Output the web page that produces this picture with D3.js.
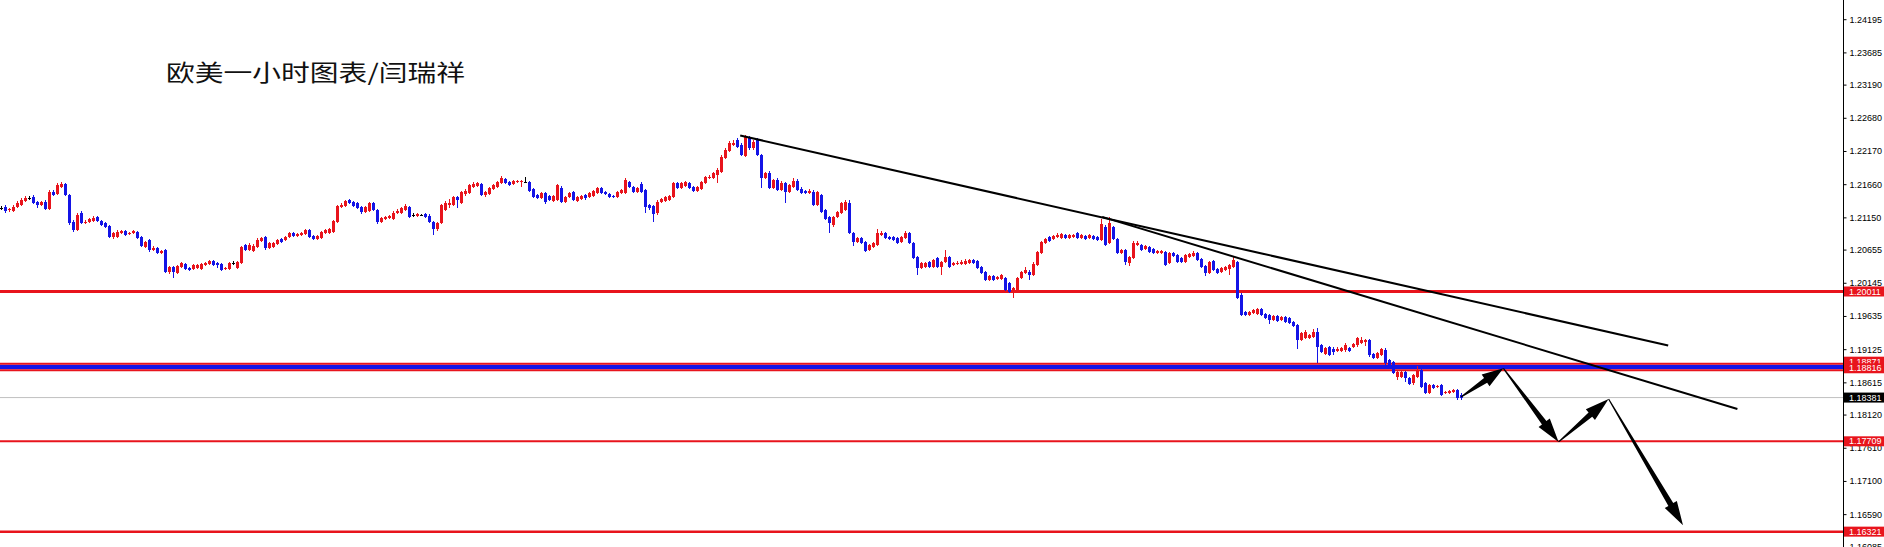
<!DOCTYPE html>
<html><head><meta charset="utf-8">
<script src="https://cdn.jsdelivr.net/npm/d3@7/dist/d3.min.js"></script>
<style>html,body{margin:0;padding:0;background:#fff;overflow:hidden}</style>
</head><body>
<svg id="chart" width="1884" height="547"></svg>
<script>
// ---------------- DATA ----------------
const chartTitle = "欧美一小时图表/闫瑞祥";
const priceTicks = [1.24195,1.23685,1.23190,1.22680,1.22170,1.21660,1.21150,1.20655,1.20145,1.19635,1.19125,1.18615,1.18120,1.17610,1.17100,1.16590,1.16085];
const redLevels = [1.20011, 1.18871, 1.18816, 1.17709, 1.16321];
const blueBand = [1.18871, 1.18816];
const currentPrice = 1.18381;
// trendlines: [barIndex, price]
const trendA = [[184.8, 1.22408], [416.8, 1.19181]];
const trendB = [[275.3, 1.21157], [434.1, 1.18206]];
// projected path arrows: [barIndex, price]
const arrowPath = [[365, 1.1839], [375.6, 1.1883], [389.4, 1.1770], [401.9, 1.1836], [420.5, 1.1642]];

const opens = [
1.2129,1.2131,1.2126,1.2125,1.2131,1.2134,1.2140,1.2145,1.2146,1.2139,
1.2134,1.2139,1.2128,1.2154,1.2151,1.2162,1.2166,1.2149,1.2108,1.2096,
1.2122,1.2106,1.2108,1.2109,1.2116,1.2109,1.2106,1.2102,1.2085,1.2085,
1.2091,1.2094,1.2089,1.2091,1.2092,1.2085,1.2069,1.2080,1.2065,1.2068,
1.2060,1.2065,1.2031,1.2039,1.2030,1.2039,1.2043,1.2037,1.2036,1.2037,
1.2036,1.2042,1.2043,1.2048,1.2045,1.2043,1.2036,1.2036,1.2045,1.2037,
1.2045,1.2073,1.2065,1.2063,1.2069,1.2079,1.2085,1.2068,1.2069,1.2074,
1.2082,1.2080,1.2085,1.2091,1.2086,1.2088,1.2089,1.2096,1.2086,1.2082,
1.2083,1.2091,1.2091,1.2092,1.2108,1.2131,1.2132,1.2142,1.2139,1.2137,
1.2131,1.2123,1.2125,1.2137,1.2126,1.2108,1.2112,1.2114,1.2112,1.2122,
1.2122,1.2126,1.2131,1.2119,1.2117,1.2119,1.2120,1.2117,1.2108,1.2097,
1.2106,1.2126,1.2134,1.2134,1.2146,1.2137,1.2151,1.2152,1.2162,1.2163,
1.2166,1.2149,1.2151,1.2159,1.2162,1.2168,1.2174,1.2169,1.2166,1.2169,
1.2169,1.2169,1.2169,1.2159,1.2149,1.2145,1.2152,1.2148,1.2140,1.2142,
1.2160,1.2139,1.2146,1.2154,1.2140,1.2143,1.2149,1.2146,1.2148,1.2152,
1.2160,1.2154,1.2151,1.2148,1.2146,1.2152,1.2152,1.2169,1.2162,1.2154,
1.2166,1.2157,1.2134,1.2132,1.2122,1.2139,1.2140,1.2142,1.2146,1.2168,
1.2160,1.2163,1.2168,1.2162,1.2155,1.2159,1.2168,1.2175,1.2175,1.2180,
1.2185,1.2206,1.2217,1.2226,1.2234,1.2226,1.2209,1.2238,1.2222,1.2234,
1.2211,1.2175,1.2183,1.2160,1.2172,1.2157,1.2168,1.2154,1.2162,1.2171,
1.2159,1.2155,1.2152,1.2154,1.2134,1.2149,1.2126,1.2116,1.2103,1.2116,
1.2122,1.2126,1.2137,1.2091,1.2077,1.2083,1.2077,1.2065,1.2069,1.2073,
1.2088,1.2091,1.2085,1.2085,1.2083,1.2077,1.2083,1.2091,1.2076,1.2054,
1.2037,1.2039,1.2046,1.2039,1.2053,1.2039,1.2046,1.2054,1.2042,1.2043,
1.2043,1.2043,1.2045,1.2049,1.2048,1.2039,1.2031,1.2019,1.2025,1.2020,
1.2020,1.2022,1.2014,1.2000,1.2003,1.2022,1.2030,1.2031,1.2026,1.2042,
1.2060,1.2076,1.2085,1.2082,1.2085,1.2083,1.2088,1.2083,1.2085,1.2091,
1.2083,1.2086,1.2083,1.2086,1.2085,1.2080,1.2100,1.2076,1.2100,1.2082,
1.2060,1.2065,1.2045,1.2053,1.2073,1.2073,1.2066,1.2069,1.2066,1.2060,
1.2060,1.2062,1.2045,1.2060,1.2057,1.2053,1.2046,1.2054,1.2056,1.2060,
1.2051,1.2040,1.2030,1.2048,1.2036,1.2031,1.2034,1.2036,1.2039,1.2046,
1.1996,1.1970,1.1965,1.1968,1.1967,1.1974,1.1967,1.1965,1.1957,1.1963,
1.1957,1.1962,1.1960,1.1954,1.1950,1.1927,1.1930,1.1930,1.1931,1.1939,
1.1919,1.1905,1.1916,1.1913,1.1910,1.1910,1.1911,1.1914,1.1916,1.1919,
1.1922,1.1924,1.1927,1.1905,1.1899,1.1904,1.1911,1.1896,1.1893,1.1870,
1.1870,1.1877,1.1868,1.1861,1.1870,1.1880,1.1861,1.1845,1.1857,1.1854,
1.1857,1.1845,1.1845,1.1847,1.1850,1.1842];

const highs = [
1.2132,1.2134,1.2129,1.2134,1.2140,1.2145,1.2148,1.2148,1.2149,1.2140,
1.2140,1.2142,1.2157,1.2157,1.2168,1.2169,1.2168,1.2151,1.2111,1.2122,
1.2125,1.2111,1.2114,1.2117,1.2117,1.2111,1.2108,1.2103,1.2092,1.2096,
1.2096,1.2096,1.2092,1.2096,1.2094,1.2086,1.2079,1.2082,1.2071,1.2069,
1.2065,1.2066,1.2040,1.2040,1.2042,1.2046,1.2045,1.2039,1.2043,1.2043,
1.2045,1.2046,1.2049,1.2049,1.2046,1.2045,1.2039,1.2046,1.2048,1.2048,
1.2071,1.2074,1.2076,1.2074,1.2083,1.2085,1.2086,1.2077,1.2077,1.2082,
1.2083,1.2086,1.2092,1.2092,1.2091,1.2092,1.2097,1.2097,1.2088,1.2088,
1.2094,1.2097,1.2099,1.2111,1.2134,1.2137,1.2142,1.2143,1.2140,1.2139,
1.2132,1.2132,1.2139,1.2139,1.2128,1.2116,1.2117,1.2119,1.2125,1.2128,
1.2131,1.2136,1.2132,1.2122,1.2122,1.2120,1.2122,1.2120,1.2109,1.2108,
1.2136,1.2140,1.2143,1.2148,1.2148,1.2155,1.2159,1.2166,1.2169,1.2169,
1.2168,1.2155,1.2162,1.2166,1.2171,1.2179,1.2175,1.2171,1.2172,1.2172,
1.2172,1.2177,1.2171,1.2160,1.2151,1.2154,1.2154,1.2149,1.2149,1.2166,
1.2163,1.2148,1.2154,1.2155,1.2148,1.2149,1.2151,1.2154,1.2157,1.2162,
1.2162,1.2155,1.2152,1.2149,1.2155,1.2159,1.2175,1.2171,1.2163,1.2162,
1.2169,1.2159,1.2136,1.2134,1.2142,1.2145,1.2148,1.2149,1.2169,1.2169,
1.2169,1.2171,1.2169,1.2163,1.2163,1.2171,1.2179,1.2180,1.2185,1.2191,
1.2211,1.2222,1.2232,1.2234,1.2237,1.2229,1.2242,1.2240,1.2234,1.2237,
1.2212,1.2185,1.2186,1.2174,1.2175,1.2171,1.2169,1.2166,1.2175,1.2174,
1.2162,1.2157,1.2159,1.2157,1.2155,1.2151,1.2128,1.2117,1.2117,1.2125,
1.2139,1.2142,1.2142,1.2092,1.2085,1.2085,1.2079,1.2074,1.2077,1.2097,
1.2094,1.2092,1.2086,1.2086,1.2085,1.2086,1.2094,1.2092,1.2077,1.2056,
1.2046,1.2046,1.2048,1.2051,1.2054,1.2048,1.2065,1.2056,1.2046,1.2048,
1.2049,1.2051,1.2051,1.2051,1.2049,1.2040,1.2033,1.2026,1.2026,1.2025,
1.2028,1.2023,1.2016,1.2008,1.2023,1.2033,1.2039,1.2034,1.2046,1.2063,
1.2079,1.2083,1.2086,1.2088,1.2091,1.2091,1.2089,1.2089,1.2089,1.2092,
1.2089,1.2088,1.2089,1.2088,1.2086,1.2112,1.2103,1.2116,1.2102,1.2083,
1.2066,1.2066,1.2056,1.2079,1.2079,1.2074,1.2073,1.2071,1.2068,1.2065,
1.2065,1.2063,1.2062,1.2062,1.2059,1.2054,1.2059,1.2060,1.2063,1.2062,
1.2053,1.2042,1.2048,1.2049,1.2037,1.2039,1.2040,1.2043,1.2054,1.2048,
1.1999,1.1971,1.1971,1.1974,1.1976,1.1976,1.1968,1.1967,1.1965,1.1965,
1.1963,1.1963,1.1962,1.1956,1.1951,1.1939,1.1942,1.1936,1.1943,1.1945,
1.1920,1.1916,1.1917,1.1916,1.1916,1.1916,1.1922,1.1916,1.1922,1.1931,
1.1931,1.1928,1.1928,1.1907,1.1908,1.1914,1.1914,1.1897,1.1894,1.1880,
1.1879,1.1879,1.1870,1.1874,1.1887,1.1882,1.1862,1.1859,1.1859,1.1857,
1.1859,1.1848,1.1850,1.1851,1.1851,1.1845];

const lows = [
1.2126,1.2122,1.2123,1.2123,1.2129,1.2132,1.2139,1.2142,1.2136,1.2129,
1.2132,1.2126,1.2126,1.2148,1.2149,1.2160,1.2148,1.2103,1.2092,1.2094,
1.2105,1.2105,1.2106,1.2108,1.2108,1.2102,1.2099,1.2083,1.2082,1.2083,
1.2089,1.2086,1.2088,1.2089,1.2082,1.2069,1.2068,1.2062,1.2063,1.2059,
1.2059,1.2030,1.2028,1.2022,1.2028,1.2037,1.2034,1.2033,1.2034,1.2036,
1.2034,1.2040,1.2042,1.2040,1.2037,1.2033,1.2034,1.2034,1.2042,1.2036,
1.2043,1.2063,1.2063,1.2062,1.2068,1.2077,1.2065,1.2066,1.2068,1.2073,
1.2076,1.2079,1.2083,1.2085,1.2085,1.2086,1.2088,1.2083,1.2080,1.2080,
1.2082,1.2089,1.2089,1.2091,1.2106,1.2129,1.2131,1.2136,1.2131,1.2128,
1.2120,1.2122,1.2123,1.2125,1.2105,1.2106,1.2111,1.2112,1.2111,1.2120,
1.2120,1.2125,1.2114,1.2116,1.2116,1.2117,1.2114,1.2106,1.2088,1.2094,
1.2105,1.2125,1.2129,1.2132,1.2129,1.2136,1.2148,1.2151,1.2160,1.2162,
1.2148,1.2146,1.2149,1.2157,1.2160,1.2166,1.2166,1.2163,1.2165,1.2168,
1.2162,1.2168,1.2154,1.2145,1.2143,1.2143,1.2136,1.2140,1.2139,1.2140,
1.2137,1.2137,1.2145,1.2140,1.2139,1.2142,1.2142,1.2145,1.2146,1.2151,
1.2151,1.2149,1.2145,1.2145,1.2145,1.2151,1.2151,1.2160,1.2152,1.2152,
1.2152,1.2122,1.2126,1.2108,1.2119,1.2137,1.2139,1.2140,1.2145,1.2159,
1.2159,1.2162,1.2159,1.2154,1.2154,1.2157,1.2166,1.2174,1.2174,1.2168,
1.2183,1.2205,1.2215,1.2225,1.2222,1.2209,1.2208,1.2218,1.2218,1.2209,
1.2160,1.2174,1.2159,1.2159,1.2155,1.2155,1.2137,1.2152,1.2160,1.2155,
1.2151,1.2151,1.2151,1.2132,1.2132,1.2122,1.2111,1.2091,1.2100,1.2114,
1.2120,1.2125,1.2089,1.2071,1.2076,1.2074,1.2062,1.2063,1.2068,1.2071,
1.2086,1.2082,1.2080,1.2079,1.2074,1.2076,1.2082,1.2074,1.2051,1.2026,
1.2036,1.2037,1.2037,1.2037,1.2037,1.2026,1.2045,1.2037,1.2040,1.2042,
1.2042,1.2042,1.2043,1.2043,1.2036,1.2028,1.2017,1.2017,1.2017,1.2019,
1.2019,1.2002,1.1999,1.1991,1.2002,1.2020,1.2028,1.2019,1.2025,1.2040,
1.2059,1.2074,1.2077,1.2080,1.2083,1.2082,1.2082,1.2082,1.2083,1.2082,
1.2082,1.2080,1.2082,1.2080,1.2079,1.2079,1.2071,1.2074,1.2080,1.2059,
1.2059,1.2042,1.2040,1.2051,1.2071,1.2063,1.2065,1.2060,1.2059,1.2059,
1.2059,1.2040,1.2043,1.2054,1.2045,1.2045,1.2045,1.2053,1.2054,1.2048,
1.2037,1.2025,1.2028,1.2033,1.2028,1.2030,1.2033,1.2026,1.2037,1.1990,
1.1963,1.1963,1.1963,1.1967,1.1965,1.1963,1.1959,1.1951,1.1956,1.1954,
1.1956,1.1953,1.1951,1.1947,1.1913,1.1925,1.1928,1.1928,1.1930,1.1891,
1.1907,1.1904,1.1902,1.1904,1.1908,1.1908,1.1908,1.1908,1.1914,1.1916,
1.1920,1.1917,1.1900,1.1897,1.1897,1.1902,1.1888,1.1884,1.1874,1.1865,
1.1868,1.1862,1.1857,1.1857,1.1868,1.1853,1.1844,1.1844,1.1851,1.1853,
1.1841,1.1844,1.1844,1.1845,1.1834,1.1834];

const closes = [
1.2129,1.2125,1.2128,1.2131,1.2137,1.2142,1.2145,1.2145,1.2137,1.2134,
1.2139,1.2128,1.2154,1.2149,1.2165,1.2166,1.2149,1.2106,1.2096,1.2119,
1.2106,1.2108,1.2112,1.2114,1.2109,1.2103,1.2100,1.2085,1.2091,1.2092,
1.2094,1.2088,1.2091,1.2094,1.2083,1.2071,1.2077,1.2065,1.2068,1.2060,
1.2063,1.2031,1.2039,1.2031,1.2040,1.2045,1.2036,1.2034,1.2042,1.2042,
1.2043,1.2045,1.2048,1.2042,1.2042,1.2034,1.2037,1.2045,1.2045,1.2046,
1.2069,1.2065,1.2073,1.2071,1.2080,1.2083,1.2068,1.2076,1.2076,1.2080,
1.2077,1.2085,1.2091,1.2086,1.2089,1.2091,1.2096,1.2085,1.2082,1.2086,
1.2092,1.2096,1.2097,1.2109,1.2132,1.2134,1.2140,1.2137,1.2132,1.2129,
1.2123,1.2131,1.2137,1.2126,1.2108,1.2114,1.2116,1.2117,1.2122,1.2125,
1.2129,1.2132,1.2116,1.2119,1.2120,1.2119,1.2116,1.2108,1.2097,1.2106,
1.2134,1.2137,1.2137,1.2146,1.2142,1.2154,1.2155,1.2165,1.2166,1.2168,
1.2149,1.2154,1.2160,1.2165,1.2169,1.2175,1.2168,1.2165,1.2171,1.2171,
1.2171,1.2169,1.2155,1.2146,1.2145,1.2152,1.2139,1.2142,1.2148,1.2165,
1.2139,1.2146,1.2152,1.2142,1.2146,1.2148,1.2145,1.2152,1.2155,1.2160,
1.2152,1.2151,1.2146,1.2146,1.2154,1.2157,1.2172,1.2162,1.2154,1.2160,
1.2154,1.2131,1.2129,1.2120,1.2139,1.2143,1.2146,1.2148,1.2168,1.2160,
1.2168,1.2169,1.2160,1.2155,1.2162,1.2169,1.2177,1.2177,1.2183,1.2188,
1.2208,1.2218,1.2229,1.2229,1.2223,1.2211,1.2238,1.2222,1.2231,1.2211,
1.2175,1.2183,1.2160,1.2172,1.2157,1.2168,1.2154,1.2165,1.2171,1.2157,
1.2152,1.2152,1.2155,1.2134,1.2154,1.2123,1.2112,1.2106,1.2116,1.2123,
1.2137,1.2139,1.2091,1.2077,1.2083,1.2076,1.2063,1.2073,1.2076,1.2091,
1.2091,1.2083,1.2082,1.2080,1.2076,1.2085,1.2091,1.2076,1.2053,1.2037,
1.2045,1.2045,1.2039,1.2049,1.2039,1.2046,1.2054,1.2039,1.2045,1.2045,
1.2046,1.2048,1.2049,1.2045,1.2037,1.2030,1.2019,1.2025,1.2019,1.2023,
1.2026,1.2003,1.2000,1.2006,1.2022,1.2031,1.2034,1.2026,1.2043,1.2062,
1.2077,1.2082,1.2079,1.2086,1.2088,1.2089,1.2083,1.2088,1.2088,1.2083,
1.2088,1.2082,1.2088,1.2082,1.2080,1.2105,1.2073,1.2106,1.2082,1.2060,
1.2065,1.2046,1.2054,1.2076,1.2076,1.2065,1.2071,1.2062,1.2060,1.2063,
1.2063,1.2042,1.2060,1.2056,1.2046,1.2046,1.2057,1.2059,1.2060,1.2049,
1.2039,1.2030,1.2046,1.2034,1.2030,1.2037,1.2039,1.2042,1.2049,1.1991,
1.1965,1.1965,1.1970,1.1973,1.1974,1.1965,1.1960,1.1957,1.1963,1.1956,
1.1962,1.1954,1.1953,1.1948,1.1927,1.1937,1.1939,1.1934,1.1939,1.1916,
1.1908,1.1914,1.1904,1.1908,1.1913,1.1914,1.1919,1.1910,1.1920,1.1930,
1.1927,1.1927,1.1904,1.1899,1.1907,1.1913,1.1891,1.1885,1.1876,1.1877,
1.1877,1.1868,1.1859,1.1873,1.1880,1.1854,1.1845,1.1857,1.1853,1.1856,
1.1842,1.1847,1.1848,1.1850,1.1838,1.18381];

// ---------------- DRAW ----------------
const W = 1884, H = 547, axisX = 1843;
const RED = "#e8141c", BLUE = "#1414e6";
const svg = d3.select("#chart");
svg.append("rect").attr("width", W).attr("height", H).attr("fill", "#fff");

const x = d3.scaleLinear().domain([0, 460]).range([1, 1841]);
const y = d3.scaleLinear().domain([1.24195, 1.16085]).range([19.2, 547.0]);

const candles = opens.map((o, i) => ({i, o, h: highs[i], l: lows[i], c: closes[i]}));

// horizontal levels (behind)
const lv = svg.append("g");
lv.append("line").attr("x1", 0).attr("x2", axisX).attr("y1", y(currentPrice)).attr("y2", y(currentPrice))
  .attr("stroke", "#c0c0c0").attr("stroke-width", 1);
lv.append("rect").attr("x", 0).attr("width", axisX)
  .attr("y", y(blueBand[0]) - 1).attr("height", y(blueBand[1]) - y(blueBand[0]) + 1).attr("fill", BLUE);
const lvWidth = {1.20011: 3, 1.18871: 2, 1.18816: 2, 1.17709: 2, 1.16321: 2.5};
const lvOff = {1.18871: -2, 1.18816: 1};
redLevels.forEach(p => {
  const yy = y(p) + (lvOff[p] || 0);
  lv.append("line").attr("x1", 0).attr("x2", axisX).attr("y1", yy).attr("y2", yy)
    .attr("stroke", RED).attr("stroke-width", lvWidth[p]);
});

// candles
const cg = svg.append("g").attr("shape-rendering", "crispEdges");
const col = d => d.c > d.o ? RED : (d.c < d.o ? BLUE : "#000");
cg.selectAll("line.w").data(candles).join("line")
  .attr("x1", d => Math.round(x(d.i)) + 0.5).attr("x2", d => Math.round(x(d.i)) + 0.5)
  .attr("y1", d => y(d.h)).attr("y2", d => y(d.l))
  .attr("stroke", col).attr("stroke-width", 1);
cg.selectAll("rect.b").data(candles).join("rect")
  .attr("x", d => Math.round(x(d.i)) - 1).attr("width", 3)
  .attr("y", d => y(Math.max(d.o, d.c)))
  .attr("height", d => Math.max(1, y(Math.min(d.o, d.c)) - y(Math.max(d.o, d.c))))
  .attr("fill", col);

// trendlines
[trendA, trendB].forEach(t => {
  svg.append("line").attr("x1", x(t[0][0])).attr("y1", y(t[0][1]))
    .attr("x2", x(t[1][0])).attr("y2", y(t[1][1]))
    .attr("stroke", "#000").attr("stroke-width", 2);
});

// arrows
function arrowPoly(p0, p1) {
  const dx = p1[0] - p0[0], dy = p1[1] - p0[1];
  const L = Math.hypot(dx, dy), ux = dx / L, uy = dy / L, nx = -uy, ny = ux;
  const hl = Math.min(24, L * 0.42);
  const sx = p1[0] - ux * hl, sy = p1[1] - uy * hl;
  const pts = [
    [p0[0] + nx * 0.6, p0[1] + ny * 0.6],
    [sx + nx * 2.8, sy + ny * 2.8],
    [sx + nx * 7, sy + ny * 7],
    p1,
    [sx - nx * 7, sy - ny * 7],
    [sx - nx * 2.8, sy - ny * 2.8],
    [p0[0] - nx * 0.6, p0[1] - ny * 0.6]];
  return pts.map(p => p.join(",")).join(" ");
}
for (let k = 0; k < arrowPath.length - 1; k++) {
  const a = [x(arrowPath[k][0]), y(arrowPath[k][1])];
  const b = [x(arrowPath[k + 1][0]), y(arrowPath[k + 1][1])];
  svg.append("polygon").attr("points", arrowPoly(a, b)).attr("fill", "#000");
}

// right axis
svg.append("rect").attr("x", axisX).attr("y", 0).attr("width", W - axisX).attr("height", H).attr("fill", "#fff");
svg.append("line").attr("x1", axisX + 0.5).attr("x2", axisX + 0.5).attr("y1", 0).attr("y2", H)
  .attr("stroke", "#000").attr("stroke-width", 1);
const ax = svg.append("g").attr("transform", `translate(${axisX + 0.5},0)`)
  .call(d3.axisRight(y).tickValues(priceTicks).tickSize(3).tickPadding(3).tickFormat(d => d.toFixed(5)));
ax.select(".domain").remove();
ax.selectAll("text").attr("font-family", "Liberation Sans, Arial, sans-serif").attr("font-size", 9).attr("fill", "#000");
ax.selectAll("line").attr("stroke", "#000");

// price labels
const labelOff = {1.18871: -4, 1.18816: -1};
const lbl = svg.append("g");
const labels = redLevels.map(p => ({p, fill: RED})).concat([{p: currentPrice, fill: "#000"}]);
labels.forEach(d => {
  const cy = y(d.p) + (labelOff[d.p] || 0);
  lbl.append("rect").attr("x", axisX + 1).attr("y", cy - 5).attr("width", W - axisX - 1).attr("height", 10).attr("fill", d.fill);
  lbl.append("text").attr("x", axisX + 6).attr("y", cy).attr("dy", "0.34em")
    .attr("font-family", "Liberation Sans, Arial, sans-serif").attr("font-size", 9).attr("fill", "#fff")
    .text(d.p.toFixed(5));
});

// title
svg.append("text").attr("x", 166).attr("y", 81).attr("font-family", "Noto Sans CJK SC, sans-serif")
  .attr("font-size", 23).attr("fill", "#111").attr("textLength", 299).attr("lengthAdjust", "spacingAndGlyphs")
  .text(chartTitle);
</script>
</body></html>
